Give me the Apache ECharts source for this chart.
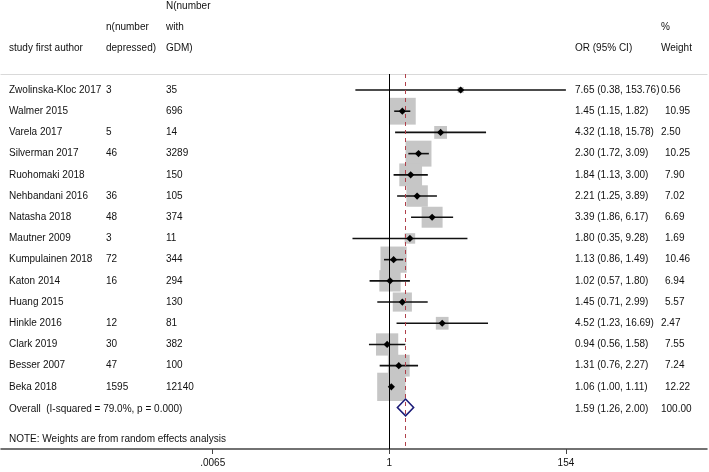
<!DOCTYPE html>
<html>
<head>
<meta charset="utf-8">
<script src="https://cdn.jsdelivr.net/npm/echarts@6/dist/echarts.min.js"></script>
<style>
  html, body { margin: 0; padding: 0; background: #fff; }
  #chart { width: 709px; height: 472px; }
</style>
</head>
<body>
<div id="chart"></div>
<script>
// ---------- data ----------
const studies = ['Zwolinska-Kloc 2017', 'Walmer 2015', 'Varela 2017', 'Silverman 2017', 'Ruohomaki 2018',
  'Nehbandani 2016', 'Natasha 2018', 'Mautner 2009', 'Kumpulainen 2018', 'Katon 2014', 'Huang 2015',
  'Hinkle 2016', 'Clark 2019', 'Besser 2007', 'Beka 2018'];
const nDepressed = ['3', '', '5', '46', '', '36', '48', '3', '72', '16', '', '12', '30', '47', '1595'];
const nGDM = ['35', '696', '14', '3289', '150', '105', '374', '11', '344', '294', '130', '81', '382', '100', '12140'];
const orValues = [7.65, 1.45, 4.32, 2.30, 1.84, 2.21, 3.39, 1.80, 1.13, 1.02, 1.45, 4.52, 0.94, 1.31, 1.06];
const ciLower = [0.38, 1.15, 1.18, 1.72, 1.13, 1.25, 1.86, 0.35, 0.86, 0.57, 0.71, 1.23, 0.56, 0.76, 1.00];
const ciUpper = [153.76, 1.82, 15.78, 3.09, 3.00, 3.89, 6.17, 9.28, 1.49, 1.80, 2.99, 16.69, 1.58, 2.27, 1.11];
const weights = [0.56, 10.95, 2.50, 10.25, 7.90, 7.02, 6.69, 1.69, 10.46, 6.94, 5.57, 2.47, 7.55, 7.24, 12.22];
const overallLabel = 'Overall  (I-squared = 79.0%, p = 0.000)';
const overallOR = 1.59, overallLower = 1.26, overallUpper = 2.00, overallWeight = 100.00;
const noteText = 'NOTE: Weights are from random effects analysis';
const tickValues = [0.0065, 1, 154];
const tickLabels = ['.0065', '1', '154'];

// ---------- layout constants ----------
const FONT = '10px "Liberation Sans", Arial, sans-serif';
const TXT = '#111';
const COL_NAME = 9, COL_N = 106, COL_NN = 166, COL_OR = 575;
const BOX_K = 8.1;
const overallRow = studies.length;

const chart = echarts.init(document.getElementById('chart'), null, { renderer: 'canvas' });

function txt(x, y, s) {
  return {
    type: 'text', x: x, y: y,
    style: { text: s, fill: TXT, font: FONT, align: 'left', verticalAlign: 'middle',
             textAlign: 'left', textVerticalAlign: 'middle' }
  };
}
function weightX(orStr, wStr) {
  return (orStr.length >= 18 || wStr.length > 5) ? 661 : 665;
}

const rowData = studies.map((s, i) => [1, i]);

const option = {
  animation: false,
  backgroundColor: '#fff',
  grid: { left: 1, right: 2, top: 74, bottom: 23, containLabel: false },
  xAxis: [{
    type: 'log', logBase: 10,
    min: Math.exp(-11.072), max: Math.exp(9.059),
    axisLine: { show: true, onZero: false, lineStyle: { color: '#444', width: 1.5 } },
    axisTick: { show: true, length: 5, lineStyle: { color: '#444', width: 1 }, customValues: tickValues },
    axisLabel: {
      show: true, customValues: tickValues, margin: 9,
      color: TXT, fontFamily: '"Liberation Sans", Arial, sans-serif', fontSize: 10,
      formatter: function (v) {
        for (let k = 0; k < tickValues.length; k++) {
          if (Math.abs(Math.log(v) - Math.log(tickValues[k])) < 1e-6) return tickLabels[k];
        }
        return '';
      }
    },
    splitLine: { show: false }
  }, {
    type: 'value', position: 'top', min: 0, max: 1,
    axisLine: { show: true, onZero: false, lineStyle: { color: '#d9d9d9', width: 1.2 } },
    axisTick: { show: false }, axisLabel: { show: false }, splitLine: { show: false }
  }],
  yAxis: {
    type: 'value', inverse: true, min: -0.755, max: 16.93, show: false
  },
  graphic: [
    txt(COL_NN, 6.7, 'N(number'),
    txt(COL_N, 27.3, 'n(number'),
    txt(COL_NN, 27.3, 'with'),
    txt(COL_NAME, 48.3, 'study first author'),
    txt(COL_N, 48.3, 'depressed)'),
    txt(COL_NN, 48.3, 'GDM)'),
    txt(661, 27.3, '%'),
    txt(COL_OR, 48.3, 'OR (95% CI)'),
    txt(661, 48.3, 'Weight'),
    txt(COL_NAME, 439, noteText)
  ],
  series: [
    {
      type: 'line', data: [], xAxisIndex: 0, yAxisIndex: 0,
      markLine: {
        silent: true, symbol: 'none', label: { show: false },
        data: [
          { xAxis: 1, lineStyle: { color: '#000', width: 1, type: 'solid' } },
          { xAxis: overallOR, lineStyle: { color: '#b0404a', width: 1, type: [4, 4] } }
        ]
      }
    },
    {
      type: 'custom', xAxisIndex: 0, yAxisIndex: 0, clip: false,
      data: rowData,
      renderItem: function (params, api) {
        const i = params.dataIndex;
        const c = api.coord([orValues[i], i]);
        const l = api.coord([ciLower[i], i]);
        const h = api.coord([ciUpper[i], i]);
        const side = BOX_K * Math.sqrt(weights[i]);
        const m = 3.6;
        return {
          type: 'group',
          children: [
            { type: 'rect', shape: { x: c[0] - side / 2, y: c[1] - side / 2, width: side, height: side },
              style: { fill: '#c6c6c6' } },
            { type: 'line', shape: { x1: l[0], y1: l[1], x2: h[0], y2: h[1] },
              style: { stroke: '#111', lineWidth: 1.6 } },
            { type: 'polygon', shape: { points: [[c[0] - m, c[1]], [c[0], c[1] - m], [c[0] + m, c[1]], [c[0], c[1] + m]] },
              style: { fill: '#000' } }
          ]
        };
      }
    },
    {
      type: 'custom', xAxisIndex: 0, yAxisIndex: 0, clip: false,
      data: [[overallOR, overallRow]],
      renderItem: function (params, api) {
        const c = api.coord([overallOR, overallRow - 0.03]);
        const l = api.coord([overallLower, overallRow - 0.03]);
        const h = api.coord([overallUpper, overallRow - 0.03]);
        const hh = 8.4;
        return {
          type: 'polygon',
          shape: { points: [[l[0], c[1]], [c[0], c[1] - hh], [h[0], c[1]], [c[0], c[1] + hh]] },
          style: { fill: '#fff', stroke: '#1c1c78', lineWidth: 1.6 }
        };
      }
    },
    {
      type: 'custom', xAxisIndex: 0, yAxisIndex: 0, clip: false,
      data: rowData,
      renderItem: function (params, api) {
        const i = params.dataIndex;
        const y = api.coord([1, i])[1];
        const orStr = orValues[i].toFixed(2) + ' (' + ciLower[i].toFixed(2) + ', ' + ciUpper[i].toFixed(2) + ')';
        const wStr = weights[i].toFixed(2);
        return {
          type: 'group',
          children: [
            txt(COL_NAME, y, studies[i]),
            txt(COL_N, y, nDepressed[i]),
            txt(COL_NN, y, nGDM[i]),
            txt(COL_OR, y, orStr),
            txt(weightX(orStr, wStr), y, wStr)
          ]
        };
      }
    },
    {
      type: 'custom', xAxisIndex: 0, yAxisIndex: 0, clip: false,
      data: [[1, overallRow]],
      renderItem: function (params, api) {
        const y = api.coord([1, overallRow])[1] + 1;
        const orStr = overallOR.toFixed(2) + ' (' + overallLower.toFixed(2) + ', ' + overallUpper.toFixed(2) + ')';
        const wStr = overallWeight.toFixed(2);
        return {
          type: 'group',
          children: [
            txt(COL_NAME, y, overallLabel),
            txt(COL_OR, y, orStr),
            txt(weightX(orStr, wStr), y, wStr)
          ]
        };
      }
    }
  ]
};
chart.setOption(option);
</script>
</body>
</html>
